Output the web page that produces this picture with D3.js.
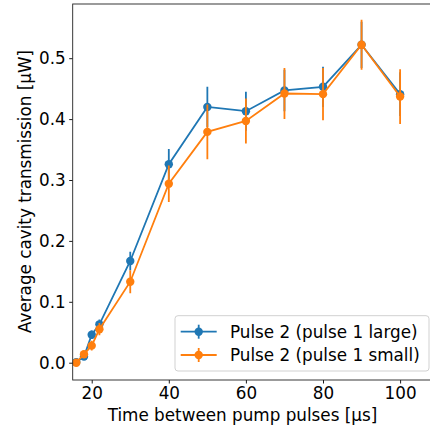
<!DOCTYPE html>
<html><head><meta charset="utf-8">
<script src="https://cdn.jsdelivr.net/npm/d3@7"></script>
<style>
html,body{margin:0;padding:0;background:#fff;overflow:hidden;}
text{font-family:"DejaVu Sans",sans-serif;fill:#000;}
</style></head>
<body><svg id="c" width="430" height="430"></svg>
<script>
const xValues = [16, 18, 20, 22, 30, 40, 50, 60, 70, 80, 90, 100];
const largeValues = [0.001, 0.010, 0.046, 0.063, 0.167, 0.326, 0.420, 0.413, 0.447, 0.453, 0.522, 0.441];
const largeErrors = [0.002, 0.004, 0.007, 0.008, 0.015, 0.025, 0.033, 0.032, 0.034, 0.033, 0.038, 0.036];
const smallValues = [0.000, 0.014, 0.028, 0.055, 0.133, 0.294, 0.379, 0.397, 0.442, 0.441, 0.522, 0.437];
const smallErrors = [0.003, 0.005, 0.008, 0.010, 0.019, 0.030, 0.045, 0.037, 0.042, 0.043, 0.041, 0.045];
const seriesNames = ["Pulse 2 (pulse 1 large)", "Pulse 2 (pulse 1 small)"];
const seriesColors = ["#1f77b4", "#ff7f0e"];
const xTicks = [20, 40, 60, 80, 100];
const yTicks = [0.0, 0.1, 0.2, 0.3, 0.4, 0.5];
const xLabel = "Time between pump pulses [μs]";
const yLabel = "Average cavity transmission [μW]";

const FS = 16.8;
const svg = d3.select("#c");
const L = 72.7, T = 4, R = 438, B = 380;
const x = d3.scaleLinear().domain([15.07, 109.83]).range([L, R]);
const y = d3.scaleLinear().domain([-0.0284, 0.589]).range([B, T]);

const series = [
  {name: seriesNames[0], color: seriesColors[0], v: largeValues, e: largeErrors},
  {name: seriesNames[1], color: seriesColors[1], v: smallValues, e: smallErrors}
];

svg.append("defs").append("clipPath").attr("id","pc")
  .append("rect").attr("x",L).attr("y",T).attr("width",R-L).attr("height",B-T);

const plot = svg.append("g").attr("clip-path","url(#pc)");
const line = d3.line().x((d,i)=>x(xValues[i])).y(d=>y(d));
series.forEach(s=>{
  const g = plot.append("g");
  g.append("path").attr("d", line(s.v)).attr("fill","none")
    .attr("stroke", s.color).attr("stroke-width",1.8);
  g.selectAll("line.err").data(s.v).join("line")
    .attr("x1",(d,i)=>x(xValues[i])).attr("x2",(d,i)=>x(xValues[i]))
    .attr("y1",(d,i)=>y(d - s.e[i])).attr("y2",(d,i)=>y(d + s.e[i]))
    .attr("stroke", s.color).attr("stroke-width",1.8);
  g.selectAll("circle").data(s.v).join("circle")
    .attr("cx",(d,i)=>x(xValues[i])).attr("cy",d=>y(d)).attr("r",4.2)
    .attr("fill", s.color);
});

const xAxis = d3.axisBottom(x).tickValues(xTicks).tickSize(3.5).tickPadding(3.5).tickFormat(d3.format("d"));
const yAxis = d3.axisLeft(y).tickValues(yTicks).tickSize(3.5).tickPadding(3.5).tickFormat(d3.format(".1f"));
const gx = svg.append("g").attr("transform",`translate(0,${B})`).call(xAxis);
const gy = svg.append("g").attr("transform",`translate(${L},0)`).call(yAxis);
[gx, gy].forEach(g=>{
  g.select(".domain").remove();
  g.selectAll(".tick line").attr("stroke","#000").attr("stroke-width",0.9);
  g.selectAll(".tick text").attr("font-size",FS).attr("font-family","DejaVu Sans").attr("fill","#000");
});
svg.append("rect").attr("x",L).attr("y",T).attr("width",R-L).attr("height",B-T)
  .attr("fill","none").attr("stroke","#222").attr("stroke-width",0.9);

svg.append("text").attr("x",242.5).attr("y",420.5).attr("text-anchor","middle")
  .attr("font-size",FS).text(xLabel);
svg.append("text").attr("transform",`translate(31,191.5) rotate(-90)`).attr("text-anchor","middle")
  .attr("font-size",FS).text(yLabel);

const lg = svg.append("g");
lg.append("rect").attr("x",175).attr("y",315.7).attr("width",254).attr("height",55.3)
  .attr("rx",3).attr("fill","#fff").attr("fill-opacity",0.8).attr("stroke","#ccc").attr("stroke-width",0.9);
series.forEach((s,i)=>{
  const cy = 331.7 + i*23.3;
  lg.append("line").attr("x1",180.7).attr("x2",216.7).attr("y1",cy).attr("y2",cy)
    .attr("stroke",s.color).attr("stroke-width",1.8);
  lg.append("line").attr("x1",198.7).attr("x2",198.7).attr("y1",cy-7).attr("y2",cy+7)
    .attr("stroke",s.color).attr("stroke-width",1.8);
  lg.append("circle").attr("cx",198.7).attr("cy",cy).attr("r",4.2).attr("fill",s.color);
  lg.append("text").attr("x",230).attr("y",cy).attr("dy","0.35em").attr("font-size",FS).text(s.name);
});
</script></body></html>
